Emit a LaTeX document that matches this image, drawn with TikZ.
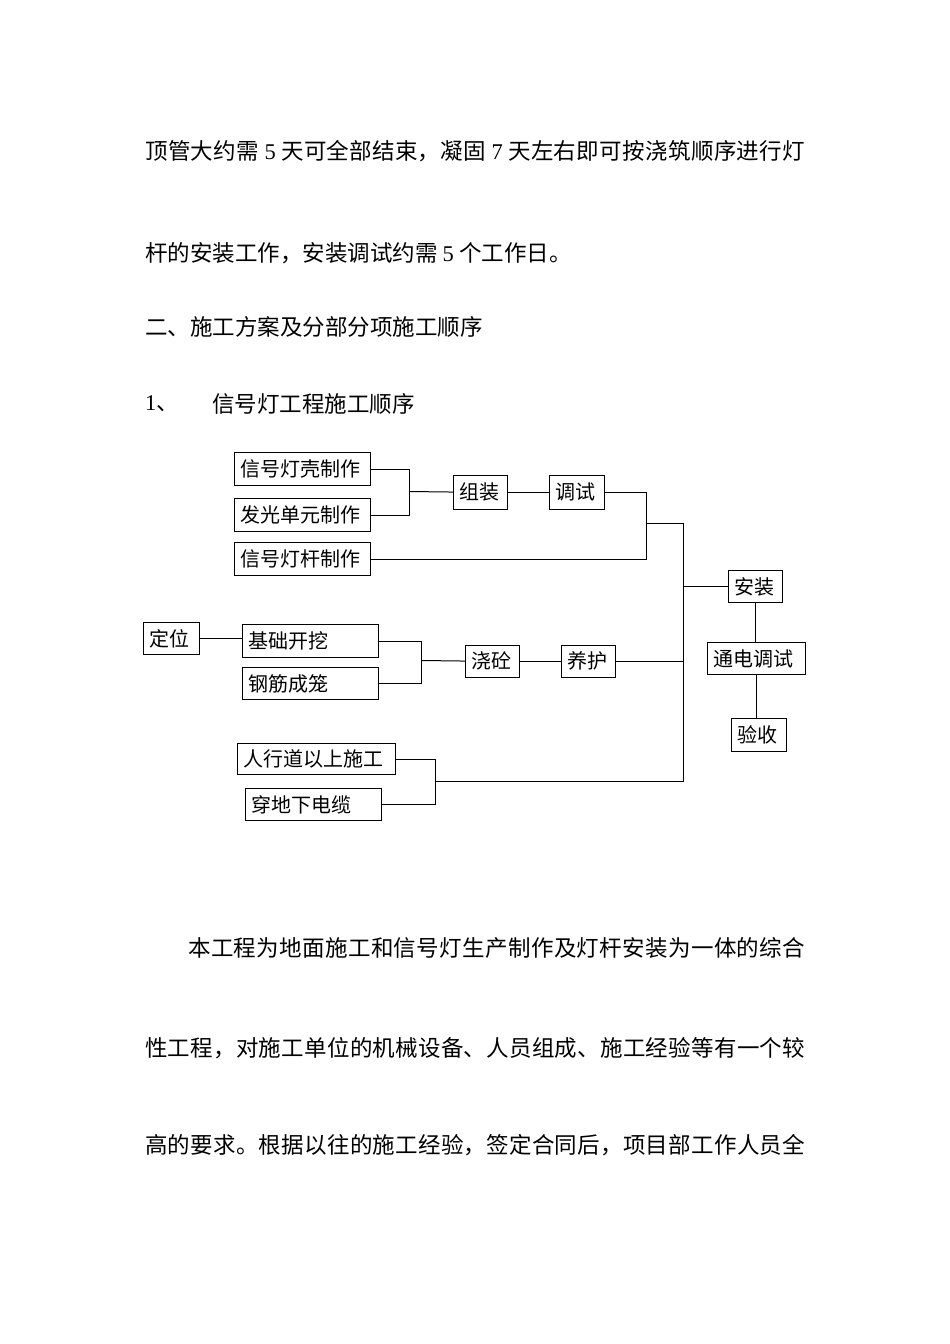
\documentclass[tikz,border=0pt]{standalone}
\usepackage{fontspec}
\setmainfont{Liberation Serif}
\newfontfamily\cjk{Noto Sans CJK SC}
\XeTeXlinebreaklocale "zh"
\XeTeXlinebreakskip=0pt plus 3pt
\newcommand\bx[6]{%
  \pgfmathsetmacro\bxw{#4-#2-11}%
  \pgfmathsetmacro\bxh{#5-#3}%
  \node[flowbox, text width=\bxw pt, minimum height=\bxh pt, anchor=north west] (#1) at (#2,#3) {#6};}
\newcommand\jline[3]{\node[bodytxt] (#1) at (145,#2) {\parbox{660pt}{\parfillskip=0pt #3}};}
\begin{document}
\begin{tikzpicture}[x=1pt,y=-1pt,
  flowbox/.style={draw, line width=1.1pt, inner xsep=5.5pt, inner ysep=0pt, align=left,
    font=\cjk\fontsize{20}{22}\selectfont},
  bodytxt/.style={anchor=west, inner sep=0pt, font=\cjk\fontsize{22.5}{27}\selectfont},
  conn/.style={line width=1pt}]
\useasboundingbox (0,0) rectangle (950,1344);
\fill[white] (0,0) rectangle (950,1344);
% body text above
\jline{t1}{151}{顶管大约需 {\rmfamily 5} 天可全部结束，凝固 {\rmfamily 7} 天左右即可按浇筑顺序进行灯}
\node[bodytxt] (t2) at (145,253) {杆的安装工作，安装调试约需 {\rmfamily 5} 个工作日。};
\node[bodytxt] (t3) at (145,327) {二、施工方案及分部分项施工顺序};
\node[bodytxt] (t4a) at (145,404) {{\rmfamily 1}、};
\node[bodytxt] (t4b) at (212,404) {信号灯工程施工顺序};
% boxes
\bx{b1}{234}{452}{370}{485}{信号灯壳制作}
\bx{b2}{234}{498}{370}{531}{发光单元制作}
\bx{b3}{234}{542}{370}{575}{信号灯杆制作}
\bx{zz}{453}{474.5}{507}{508.5}{组装}
\bx{ts}{549}{474.5}{604}{508.5}{调试}
\bx{az}{728}{570}{782}{602}{安装}
\bx{dw}{143}{622}{199}{654}{定位}
\bx{jc}{242}{624}{378}{657}{基础开挖}
\bx{gj}{242}{667}{378}{699}{钢筋成笼}
\bx{jt}{465}{644.5}{519}{676.5}{浇砼}
\bx{yh}{561}{644.5}{615}{676.5}{养护}
\bx{td}{707}{642}{805}{674}{通电调试}
\bx{ys}{731}{718}{786}{751}{验收}
\bx{rx}{237}{743}{395}{774}{人行道以上施工}
\bx{cd}{245}{788}{381}{820}{穿地下电缆}
% junctions
\coordinate (j1) at (409.5,491.5);
\coordinate (j2) at (646.5,523.5);
\coordinate (j3) at (683.5,523.5);
\coordinate (j4) at (683.5,781.5);
\coordinate (j5) at (421.5,660.5);
\coordinate (j6) at (435.5,781.5);
% connectors
\draw[conn] (b1.east) -| (j1) |- (b2.east);
\draw[conn] (j1) -- (zz.west);
\draw[conn] (zz.east) -- (ts.west);
\draw[conn] (ts.east) -| (j2) |- (b3.east);
\draw[conn] (j2) -- (j3) -- (j4);
\draw[conn] (az.west -| j3) -- (az.west);
\draw[conn] (az.south) -- (az.south |- td.north);
\draw[conn] (td.south) -- (td.south |- ys.north);
\draw[conn] (dw.east) -- (dw.east -| jc.west);
\draw[conn] (jc.east) -| (j5) |- (gj.east);
\draw[conn] (j5) -- (jt.west);
\draw[conn] (jt.east) -- (yh.west);
\draw[conn] (yh.east) -- (yh.east -| j3);
\draw[conn] (rx.east) -| (j6) |- (cd.east);
\draw[conn] (j6) -- (j4);
% body text below
\node[bodytxt] (t5) at (188,948) {\parbox{617pt}{\parfillskip=0pt 本工程为地面施工和信号灯生产制作及灯杆安装为一体的综合}};
\jline{t6}{1048}{性工程，对施工单位的机械设备、人员组成、施工经验等有一个较}
\jline{t7}{1145}{高的要求。根据以往的施工经验，签定合同后，项目部工作人员全}
\end{tikzpicture}
\end{document}
